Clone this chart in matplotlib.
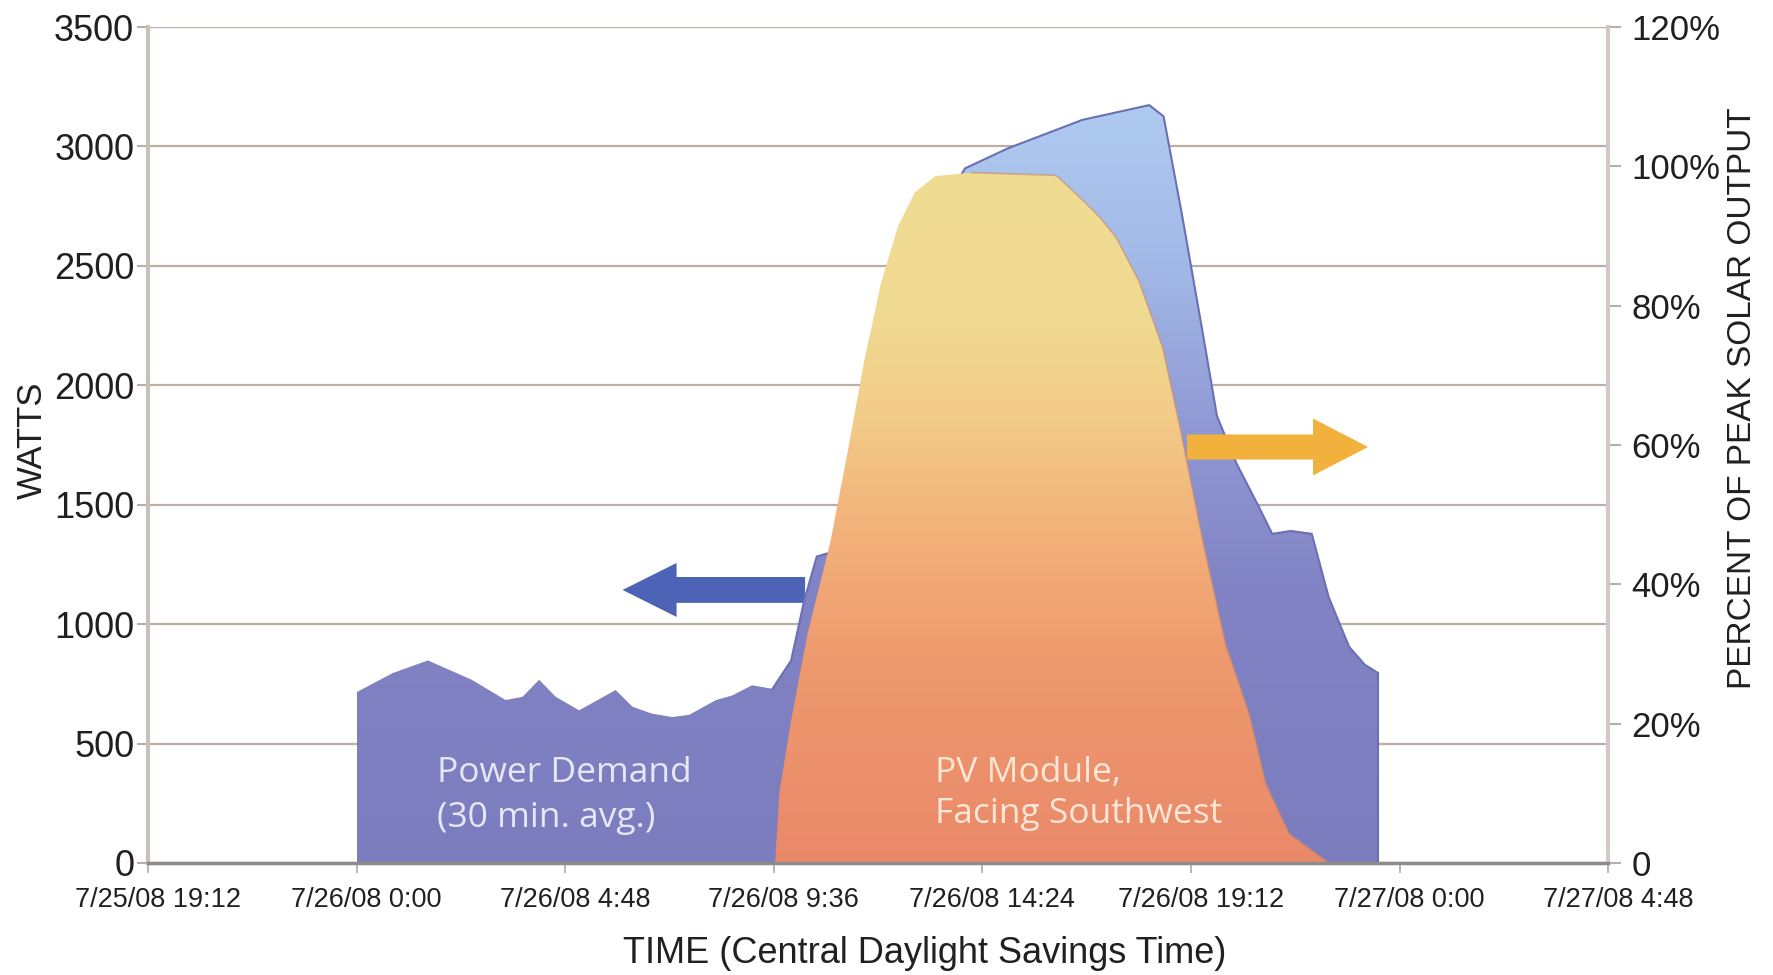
import numpy as np
import matplotlib
matplotlib.use("Agg")
import matplotlib.pyplot as plt
import matplotlib.transforms as mtransforms
from matplotlib.colors import LinearSegmentedColormap
from matplotlib.patches import FancyArrow

# hours after 7/26/08 0:00 (Central Daylight Savings Time)
demand_hours = [0.0, 0.83, 1.64, 2.65, 3.43, 3.82, 4.2, 4.58, 5.12, 5.96, 6.35, 6.8,
                7.26, 7.65, 8.27, 8.64, 9.1, 9.57, 10.0, 10.3, 10.59, 10.87, 12.0, 13.0,
                14.0, 15.0, 16.7, 18.24, 18.57, 18.99, 19.46, 19.8, 20.25, 20.76, 21.07,
                21.5, 21.98, 22.37, 22.84, 23.2, 23.5]
demand_watts = [715, 795, 848, 767, 682, 696, 767, 696, 639, 724, 654, 625,
                611, 620, 682, 701, 744, 729, 848, 1099, 1283, 1298, 2000, 2600,
                2908, 2993, 3111, 3173, 3126, 2718, 2231, 1870, 1672, 1492, 1378,
                1390, 1378, 1113, 905, 830, 796]

pv_hours = [9.63, 9.73, 10.0, 10.38, 10.9, 11.3, 11.68, 12.07, 12.46, 12.85, 13.32,
            14.15, 16.1, 16.7, 17.1, 17.48, 18.0, 18.55, 18.96, 19.48, 20.0, 20.53,
            20.92, 21.46, 22.37]
pv_percent = [0, 10.2, 20.5, 33, 46, 59, 72, 83.3, 91.4, 96.3, 98.6,
              99.1, 98.7, 95.2, 92.7, 89.8, 83.6, 74, 62.2, 46, 31.3, 21.6,
              11.4, 4.2, 0]

x_ticks = [-4.8, 0, 4.8, 9.6, 14.4, 19.2, 24.0, 28.8]
x_labels = ["7/25/08 19:12", "7/26/08 0:00", "7/26/08 4:48", "7/26/08 9:36",
            "7/26/08 14:24", "7/26/08 19:12", "7/27/08 0:00", "7/27/08 4:48"]
watt_ticks = [0, 500, 1000, 1500, 2000, 2500, 3000, 3500]
pct_ticks = [0, 20, 40, 60, 80, 100, 120]
pct_labels = ["0", "20%", "40%", "60%", "80%", "100%", "120%"]

lab_font = "Liberation Sans"
txt_c = "#231f20"
grid_c = "#b9afa5"

fig = plt.figure(figsize=(17.73, 9.75), dpi=100)
ax = fig.add_axes([0.0835, 0.1149, 0.8235, 0.8574])
ax2 = ax.twinx()

# power demand, gradient fill
dem = ax.fill_between(demand_hours, demand_watts, 0, color="none", zorder=2)
demand_cmap = LinearSegmentedColormap.from_list(
    "demand", [(0, "#7c7dbf"), (0.35, "#8183c4"), (0.55, "#8f96d2"),
               (0.8, "#a3bbe8"), (1, "#b0cbf0")])
grad = np.linspace(0, 1, 256).reshape(-1, 1)
im = ax.imshow(grad, cmap=demand_cmap, origin="lower", aspect="auto",
               extent=[0, 23.5, 0, 3200], zorder=2)
im.set_clip_path(dem.get_paths()[0], transform=ax.transData)
ax.plot(demand_hours[17:], demand_watts[17:], color="#6a70b4", lw=1.5, zorder=3)
ax.plot([demand_hours[-1]] * 2, [0, demand_watts[-1]], color="#6a70b4", lw=1.5, zorder=3)

# arrows
ax.add_patch(FancyArrow(0.45, 0.3266, -0.125, 0, width=0.031, head_width=0.0646,
                        head_length=0.037, length_includes_head=True,
                        transform=ax.transAxes, color="#4d63b6", lw=0, zorder=1))
ax.add_patch(FancyArrow(0.7116, 0.4976, 0.124, 0, width=0.030, head_width=0.068,
                        head_length=0.0377, length_includes_head=True,
                        transform=ax.transAxes, color="#f1b13c", lw=0, zorder=4))

ax.set_xlim(-4.8, 28.8)
ax.set_ylim(0, 3500)
ax.set_yticks(watt_ticks)
ax.set_yticklabels([str(t) for t in watt_ticks], family=lab_font, fontsize=26, color=txt_c)
ax.set_xticks(x_ticks)
ax.set_xticklabels(x_labels, family=lab_font, fontsize=19.5, color=txt_c)
ax.grid(axis="y", color=grid_c, lw=1.6, zorder=0)
ax.set_axisbelow(True)
ax.tick_params(axis="y", length=8, width=1.5, color=grid_c, pad=2)
ax.tick_params(axis="x", length=7, width=1.2, color="#aaaaaa", pad=10)
for lab in ax.get_xticklabels():
    lab.set_transform(lab.get_transform() + mtransforms.ScaledTranslation(0.1, 0, fig.dpi_scale_trans))
for s in ["top", "right", "bottom"]:
    ax.spines[s].set_visible(False)
ax.spines["left"].set_color("#c9c1b8")
ax.spines["left"].set_linewidth(3)

# PV module output, gradient fill
pv = ax2.fill_between(pv_hours, pv_percent, 0, color="none")
pv_cmap = LinearSegmentedColormap.from_list(
    "pv", [(0, "#ea896a"), (0.3, "#ee9a6e"), (0.5, "#f3b47b"),
           (0.65, "#f2cc88"), (0.78, "#f0d990"), (1, "#f0dc94")])
im2 = ax2.imshow(grad, cmap=pv_cmap, origin="lower", aspect="auto",
                 extent=[9.6, 22.4, 0, 99.1])
im2.set_clip_path(pv.get_paths()[0], transform=ax2.transData)
ax2.plot(pv_hours[11:], pv_percent[11:], color="#c98a68", lw=1.2, alpha=0.6)

ax2.set_xlim(-4.8, 28.8)
ax2.set_ylim(0, 120)
ax2.set_yticks(pct_ticks)
ax2.set_yticklabels(pct_labels, family=lab_font, fontsize=25, color=txt_c)
ax2.tick_params(axis="y", length=9, width=1.5, color=grid_c, pad=8)
for s in ["top", "left"]:
    ax2.spines[s].set_visible(False)
ax2.spines["right"].set_color("#cfcac5")
ax2.spines["right"].set_linewidth(3)
ax2.spines["bottom"].set_color("#8f8a8c")
ax2.spines["bottom"].set_linewidth(2.5)

ax.text(1.84, 339, "Power Demand", fontsize=25.5, family="Open Sans", color="#e8e6f5", zorder=5)
ax.text(1.84, 151, "(30 min. avg.)", fontsize=25.5, family="Open Sans", color="#e8e6f5", zorder=5)
ax2.text(13.3, 339 / 3500 * 120, "PV Module,", fontsize=25.5, family="Open Sans", color="#fde6d6")
ax2.text(13.3, 168 / 3500 * 120, "Facing Southwest", fontsize=25.5, family="Open Sans", color="#fde6d6")

ax.text(-0.0795, 0.506, "WATTS", rotation=90, ha="center", va="center",
        family=lab_font, fontsize=25, color=txt_c, transform=ax.transAxes)
ax.text(1.0918, 0.556, "PERCENT OF PEAK SOLAR OUTPUT", rotation=90, ha="center", va="center",
        family=lab_font, fontsize=24, color=txt_c, transform=ax.transAxes)
ax.text(0.532, -0.1077, "TIME (Central Daylight Savings Time)", ha="center", va="center",
        family=lab_font, fontsize=26, color=txt_c, transform=ax.transAxes)

fig.savefig("out.png", dpi=100)
